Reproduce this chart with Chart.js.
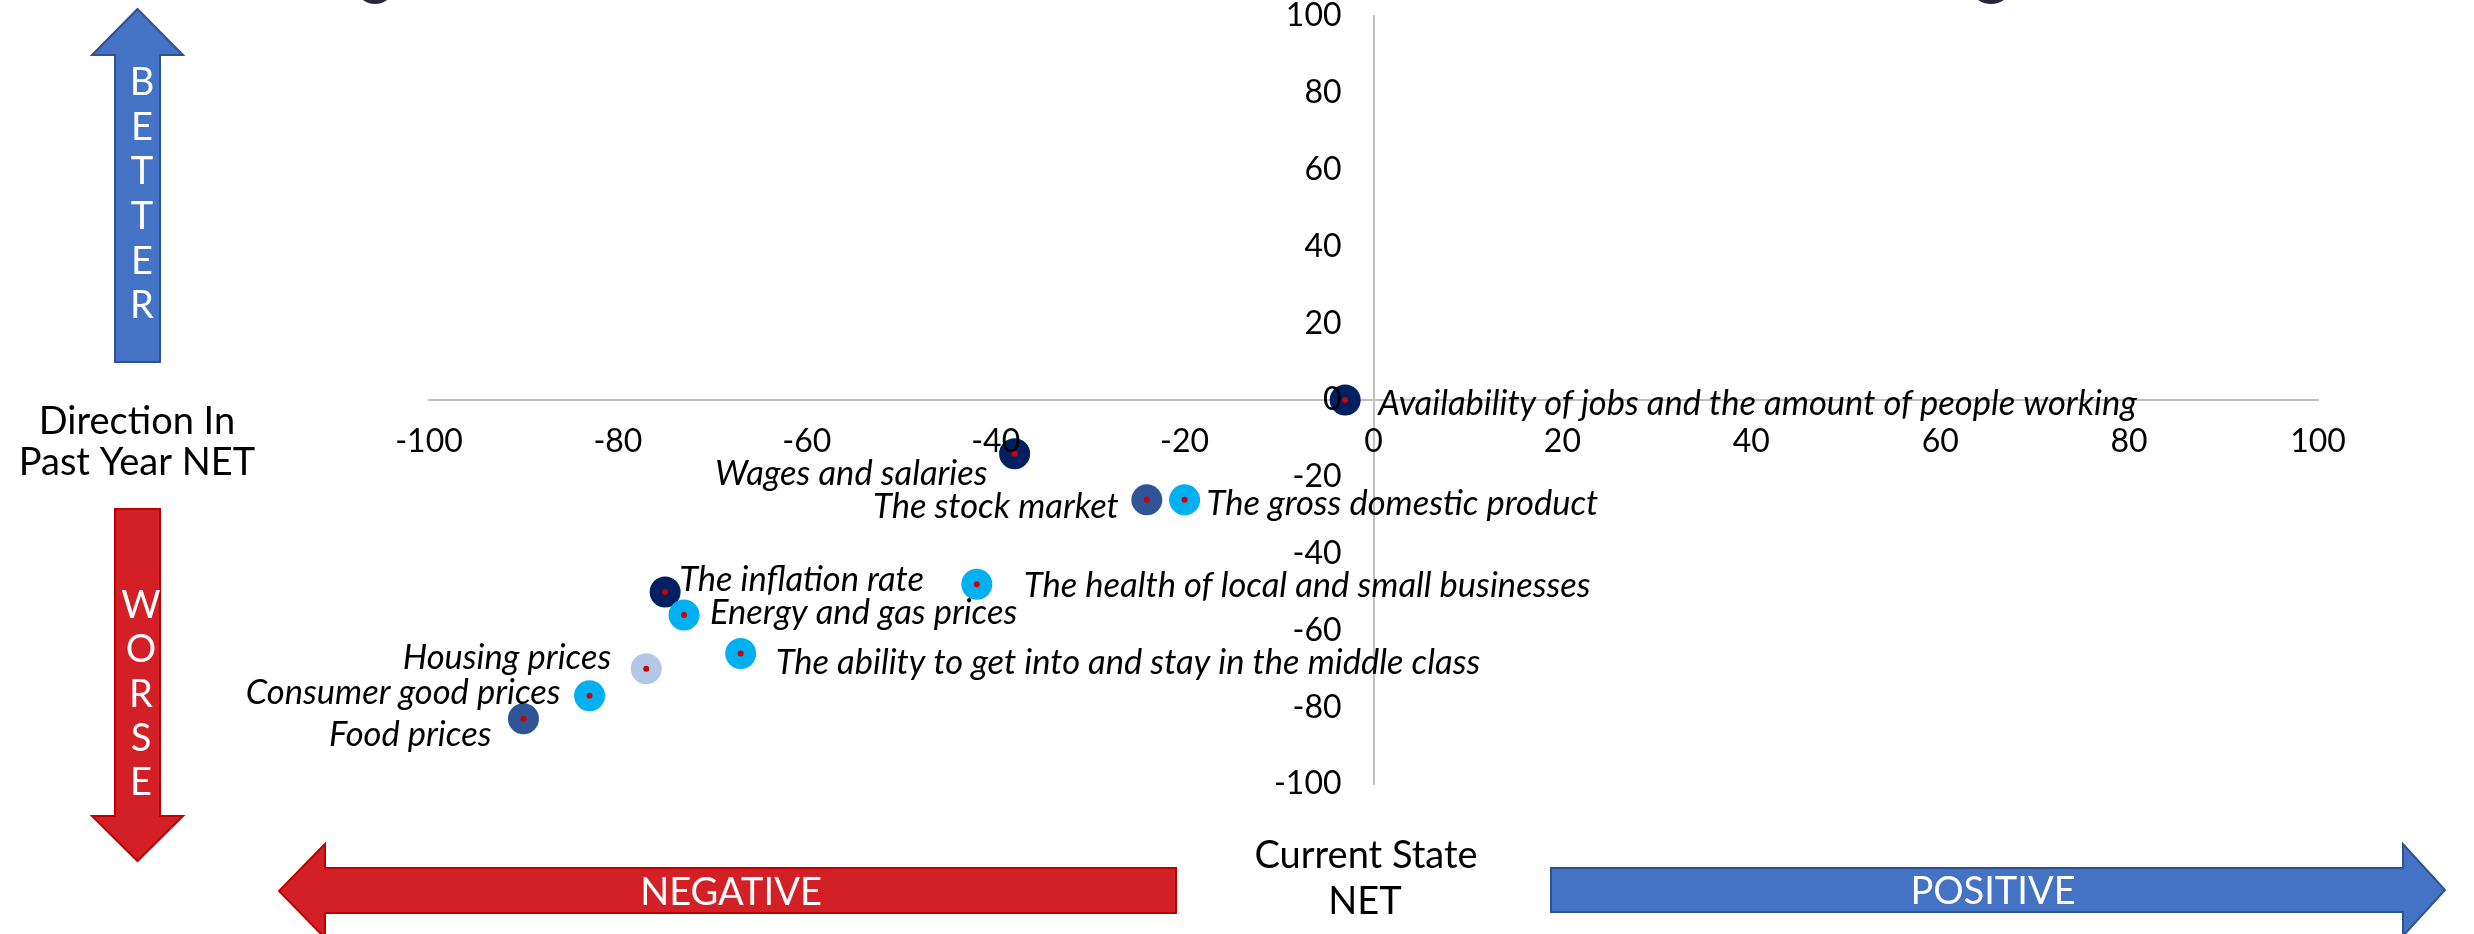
<!DOCTYPE html>
<html>
<head>
<meta charset="utf-8">
<script src="https://cdn.jsdelivr.net/npm/chart.js@4"></script>
<style>
    html, body { margin: 0; padding: 0; background: #fff; }
    #wrap { width: 2474px; height: 934px; }
</style>
</head>
<body>
<div id="wrap"><canvas id="quadChart" width="2474" height="934"></canvas></div>
<script>
// attributes rated on current state (x) and direction in past year (y)
const items = [
    "Availability of jobs and the amount of people working",
    "Wages and salaries",
    "The stock market",
    "The gross domestic product",
    "The health of local and small businesses",
    "The inflation rate",
    "Energy and gas prices",
    "The ability to get into and stay in the middle class",
    "Housing prices",
    "Consumer good prices",
    "Food prices",
];
const currentState = [-3, -38, -24, -20, -42, -75, -73, -67, -77, -83, -90];
const pastYear = [0, -14, -26, -26, -48, -50, -56, -66, -70, -77, -83];
const axisTicks = [-100, -80, -60, -40, -20, 0, 20, 40, 60, 80, 100];

const NAVY = "#002060";
const MID = "#2F5597";
const CYAN = "#00B0F0";
const PALE = "#B4C7E7";
const dotColors = [NAVY, NAVY, MID, CYAN, CYAN, NAVY, CYAN, CYAN, PALE, CYAN, MID];

// label offset from the dot: [dx, dy, align]
const labelPos = [
    [33, 4, "left"],
    [-27, 20, "right"],
    [-28, 7, "right"],
    [22, 4, "left"],
    [47, 2, "left"],
    [14, -12, "left"],
    [26, -2, "left"],
    [35, 9, "left"],
    [-35, -11, "right"],
    [-29, -3, "right"],
    [-32, 16, "right"],
];

const points = currentState.map((x, i) => ({ x: x, y: pastYear[i] }));

const tickFont = { family: "Lato", size: 32, lineHeight: 1 };

function arrow(ctx, pts, fill, stroke) {
    ctx.beginPath();
    ctx.moveTo(pts[0][0], pts[0][1]);
    for (let i = 1; i < pts.length; i++) ctx.lineTo(pts[i][0], pts[i][1]);
    ctx.closePath();
    ctx.fillStyle = fill;
    ctx.fill();
    ctx.lineWidth = 2;
    ctx.strokeStyle = stroke;
    ctx.stroke();
}

const pointLabels = {
    id: "pointLabels",
    afterDatasetsDraw(chart) {
        const ctx = chart.ctx;
        const meta = chart.getDatasetMeta(0);
        ctx.save();
        ctx.font = "italic 34.5px Lato";
        ctx.fillStyle = "#000";
        ctx.textBaseline = "middle";
        meta.data.forEach((pt, i) => {
            const [dx, dy, align] = labelPos[i];
            ctx.textAlign = align;
            ctx.fillText(items[i], pt.x + dx, pt.y + dy);
        });
        ctx.restore();
    },
};

const decorations = {
    id: "decorations",
    afterDraw(chart) {
        const ctx = chart.ctx;
        ctx.save();

        // cut-off descenders from the heading above
        ctx.fillStyle = "#2B2440";
        ctx.beginPath();
        ctx.ellipse(375, -6, 15, 10, 0, 0, Math.PI * 2);
        ctx.fill();
        ctx.beginPath();
        ctx.ellipse(1991, -6, 16, 10, 0, 0, Math.PI * 2);
        ctx.fill();

        // vertical arrows
        arrow(ctx, [[137.5, 9], [183, 55], [160, 55], [160, 362], [115, 362], [115, 55], [92, 55]], "#4472C4", "#2F528F");
        arrow(ctx, [[115, 509], [160, 509], [160, 816], [183, 816], [137.5, 861], [92, 816], [115, 816]], "#D32027", "#C00000");

        // horizontal arrows
        arrow(ctx, [[279, 891], [325, 844], [325, 868], [1176, 868], [1176, 913], [325, 913], [325, 938]], "#D32027", "#C00000");
        arrow(ctx, [[1551, 868], [2403, 868], [2403, 844], [2445, 890], [2403, 936], [2403, 912], [1551, 912]], "#4472C4", "#2F528F");

        ctx.textAlign = "center";
        ctx.textBaseline = "middle";
        ctx.font = "38px Lato";
        ctx.fillStyle = "#fff";
        "BETTER".split("").forEach((ch, i) => ctx.fillText(ch, 142, 83 + i * 44.6));
        "WORSE".split("").forEach((ch, i) => ctx.fillText(ch, 141, 606 + i * 44.2));
        ctx.fillText("NEGATIVE", 731, 893);
        ctx.fillText("POSITIVE", 1993, 892);

        ctx.fillStyle = "#000";
        ctx.fillText("Direction In", 137, 422);
        ctx.fillText("Past Year NET", 137, 463);
        ctx.fillText("Current State", 1366, 856);
        ctx.fillText("NET", 1365, 902);
        ctx.restore();
    },
};

new Chart(document.getElementById("quadChart"), {
    type: "scatter",
    data: {
        datasets: [
            {
                data: points,
                backgroundColor: dotColors,
                borderWidth: 0,
                pointRadius: 15.5,
                order: 1,
            },
            {
                // small red centre marks, drawn on top
                data: points,
                backgroundColor: "#D00000",
                borderWidth: 0,
                pointRadius: 3,
                order: 0,
            },
        ],
    },
    options: {
        responsive: false,
        animation: false,
        devicePixelRatio: 1,
        events: [],
        layout: { padding: { left: 429, right: 156, top: 16, bottom: 150 } },
        plugins: { legend: { display: false }, tooltip: { enabled: false } },
        scales: {
            x: {
                type: "linear",
                min: -100,
                max: 100,
                position: { y: 0 },
                afterBuildTicks: (scale) => { scale.ticks = axisTicks.map((v) => ({ value: v })); },
                ticks: { padding: 26, font: tickFont, color: "#000", z: 1, maxRotation: 0, autoSkip: false },
                grid: { display: false, drawTicks: false },
                border: { color: "#BFBFBF", width: 2 },
            },
            y: {
                type: "linear",
                min: -100,
                max: 100,
                position: "center",
                afterBuildTicks: (scale) => { scale.ticks = axisTicks.map((v) => ({ value: v })); },
                // keep the label gap from eating into the top margin
                afterFit: (scale) => { scale.paddingTop = 16; scale.paddingBottom = 16; },
                ticks: { padding: 32, font: tickFont, color: "#000", z: 1, autoSkip: false },
                grid: { display: false, drawTicks: false },
                border: { color: "#BFBFBF", width: 2 },
            },
        },
    },
    plugins: [pointLabels, decorations],
});
</script>
</body>
</html>
